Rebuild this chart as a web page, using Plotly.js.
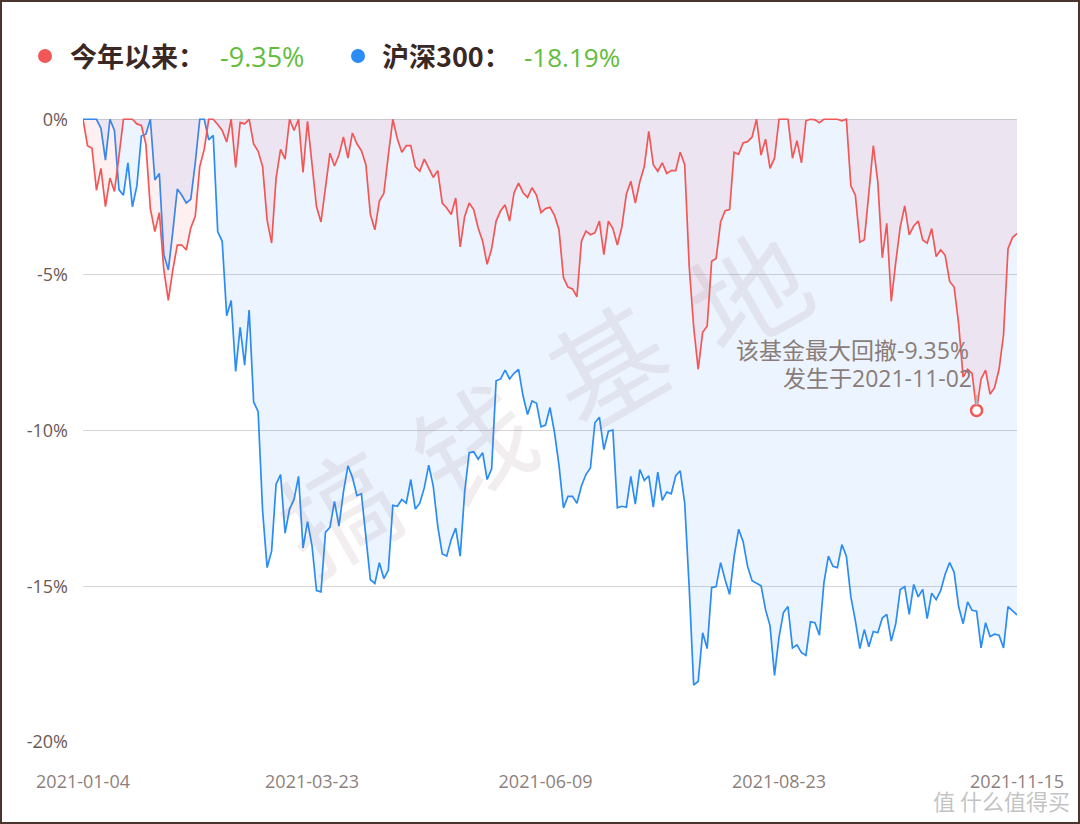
<!DOCTYPE html>
<html>
<head>
<meta charset="utf-8">
<script src="https://cdn.plot.ly/plotly-3.0.1.min.js"></script>
<style>
  html, body { margin: 0; padding: 0; background: #fff; }
  #wrap { position: relative; width: 1080px; height: 824px; }
  #chart { width: 1080px; height: 824px; }
  #frame { position: absolute; left: 0; top: 0; width: 1080px; height: 824px; box-sizing: border-box;
           border: 2px solid #4a342d; pointer-events: none; }
</style>
</head>
<body>
<div id="wrap"><div id="chart"></div><div id="frame"></div></div>
<script>
// ---- data ----
const seriesNames = ['今年以来', '沪深300'];
const legendValues = ['-9.35%', '-18.19%'];
const tickDates = ['2021-01-04', '2021-03-23', '2021-06-09', '2021-08-23', '2021-11-15'];
const yTickVals = [0, -5, -10, -15, -20];
const yTickText = ['0%', '-5%', '-10%', '-15%', '-20%'];
const holidays = ['2021-01-01','2021-02-11','2021-02-12','2021-02-15','2021-02-16','2021-02-17',
  '2021-04-05','2021-05-03','2021-05-04','2021-05-05','2021-06-14','2021-09-20','2021-09-21',
  '2021-10-01','2021-10-04','2021-10-05','2021-10-06','2021-10-07'];

// drawdown of the fund (%), one value per trading day
const fundDD = [
 0,-0.85,-0.93,-2.28,-1.58,-2.81,-1.89,-2.32,-1.2,0,
 0,0,-0.15,-0.2,-0.8,-2.87,-3.61,-3.0,-4.84,-5.82,
 -4.84,-4.04,-4.04,-4.2,-3.49,-3.12,-1.52,-0.97,0,0,
 -0.17,-0.36,-0.73,0,-1.55,-0.1,-0.15,0,-0.79,-1.03,
 -1.52,-3.24,-3.98,-1.89,-0.97,-1.28,0,-0.36,0,-1.71,
 -0.07,-1.40,-2.81,-3.30,-2.14,-1.09,-1.50,-1.15,-0.57,-1.25,
 -0.44,-0.79,-1.01,-1.46,-3.06,-3.55,-2.63,-2.38,-1.15,0,
 -0.63,-1.06,-0.85,-0.85,-1.52,-1.67,-1.28,-1.58,-1.87,-1.65,
 -2.69,-2.85,-3.06,-2.53,-4.10,-3.12,-2.69,-2.90,-3.49,-3.92,
 -4.66,-4.16,-3.27,-2.94,-2.75,-3.27,-2.36,-2.05,-2.36,-2.51,
 -2.20,-2.44,-3.00,-2.87,-2.83,-3.09,-3.55,-5.09,-5.39,-5.45,
 -5.70,-3.92,-3.59,-3.71,-3.65,-3.27,-4.35,-3.27,-3.51,-4.04,
 -3.46,-2.41,-1.99,-2.69,-2.01,-1.52,-0.39,-1.46,-1.67,-1.40,
 -1.74,-1.65,-1.65,-1.06,-1.46,-4.72,-6.68,-8.03,-6.84,-6.65,
 -4.56,-4.47,-3.30,-2.94,-2.90,-1.06,-1.13,-0.76,-0.72,-0.57,
 0,-1.15,-0.64,-1.58,-1.25,0,0,0,-1.25,-0.69,
 -1.40,-0.05,0,-0.02,-0.11,0,0,0,0,-0.05,
 0,-2.14,-2.44,-3.95,-3.87,-2.38,-0.85,-2.01,-4.45,-3.34,
 -5.85,-4.59,-3.46,-2.78,-3.71,-3.43,-3.27,-3.88,-3.98,-3.51,
 -4.41,-4.20,-4.37,-5.21,-5.39,-6.56,-8.28,-8.03,-8.16,-9.35,
 -8.34,-8.06,-8.83,-8.62,-8.03,-6.93,-4.16,-3.80,-3.67
];

// drawdown of CSI 300 (%)
const hs300DD = [
 0,0,0,0,-0.29,-1.31,0,-0.36,-2.26,-2.44,
 -1.40,-2.81,-2.14,-0.54,-0.48,0,-1.95,-1.74,-4.35,-4.84,
 -3.61,-2.24,-2.44,-2.69,-2.57,-1.40,0,0,-0.66,-0.52,
 -3.61,-3.92,-6.31,-5.82,-8.10,-6.68,-7.90,-6.13,-9.08,-9.39,
 -12.58,-14.40,-13.87,-11.72,-11.41,-13.29,-12.52,-12.21,-11.47,-13.77,
 -12.92,-13.69,-15.14,-15.18,-13.26,-13.11,-12.27,-13.07,-11.97,-11.13,
 -11.50,-12.09,-12.03,-13.44,-14.79,-14.91,-14.24,-14.75,-14.48,-12.40,
 -12.43,-12.21,-12.33,-11.57,-12.52,-12.33,-11.84,-11.11,-11.78,-13.07,
 -13.96,-14.03,-13.50,-13.13,-14.03,-11.97,-10.71,-10.68,-10.92,-10.71,
 -11.57,-11.23,-8.40,-8.34,-8.06,-8.34,-8.16,-8.03,-8.89,-9.48,
 -9.05,-9.12,-9.88,-9.82,-9.26,-10.06,-11.11,-12.48,-12.11,-12.11,
 -12.33,-11.78,-11.41,-11.20,-9.75,-9.57,-10.61,-10.02,-9.98,-12.48,
 -12.43,-12.46,-11.47,-12.36,-11.25,-11.60,-11.45,-12.46,-11.33,-12.24,
 -11.97,-12.03,-11.45,-11.29,-12.33,-15.04,-18.17,-18.05,-16.49,-17.0,
 -15.04,-15.01,-14.24,-14.79,-15.26,-14.05,-13.17,-13.56,-14.36,-14.82,
 -14.91,-14.98,-15.75,-16.27,-17.86,-16.63,-15.84,-15.65,-16.98,-16.88,
 -17.13,-17.22,-16.14,-16.17,-16.57,-14.89,-14.03,-14.36,-14.40,-13.66,
 -14.03,-15.34,-16.1,-17.0,-16.39,-16.94,-16.45,-16.49,-16.02,-15.90,
 -16.76,-16.20,-15.10,-15.01,-15.90,-14.94,-15.34,-15.10,-16.04,-15.22,
 -15.43,-15.14,-14.61,-14.24,-14.55,-15.65,-16.20,-15.50,-15.77,-15.80,
 -16.98,-16.17,-16.61,-16.54,-16.57,-16.98,-15.65,-15.80,-15.92
];

// ---- trading-day categories ----
const dates = [];
(function () {
  const hs = new Set(holidays);
  let t = Date.UTC(2021, 0, 4);
  const end = Date.UTC(2021, 10, 15);
  while (t <= end) {
    const d = new Date(t);
    const wd = d.getUTCDay();
    const s = d.toISOString().slice(0, 10);
    if (wd !== 0 && wd !== 6 && !hs.has(s)) dates.push(s);
    t += 86400000;
  }
})();

// worst point of the fund
let ddIdx = 0;
fundDD.forEach((v, i) => { if (v < fundDD[ddIdx]) ddIdx = i; });
const ddVal = fundDD[ddIdx];
const ddDate = dates[ddIdx];

// ---- layout helpers (pixel -> paper) ----
const L = 83, R = 1017, T = 118, B = 742;
const px = x => (x - L) / (R - L);
const py = y => (B - y) / (B - T);

const RED = '#f25757', BLUE = '#2a8cf4', GREEN = '#62bd3e';
const TXT = '#3a2824';
const LATIN = '"Open Sans", "Noto Sans CJK SC", sans-serif';
const CJK = '"Noto Sans CJK SC", "Open Sans", sans-serif';

const traces = [
  { x: dates, y: hs300DD, type: 'scatter', mode: 'lines', name: seriesNames[1],
    line: { color: BLUE, width: 1.7 }, fill: 'tozeroy', fillcolor: 'rgba(30,140,255,0.085)', hoverinfo: 'x+y' },
  { x: dates, y: fundDD, type: 'scatter', mode: 'lines', name: seriesNames[0],
    line: { color: RED, width: 1.7 }, fill: 'tozeroy', fillcolor: 'rgba(240,80,95,0.09)', hoverinfo: 'x+y' },
  { x: [ddDate], y: [ddVal], type: 'scatter', mode: 'markers', showlegend: false, hoverinfo: 'skip',
    marker: { size: 11, color: '#ffffff', line: { color: RED, width: 2.5 } } }
];

const wm = 'rgba(150,105,120,0.12)';
function wmChar(ch, x, y) {
  return { xref: 'paper', yref: 'paper', x: px(x), y: py(y), xanchor: 'center', yanchor: 'middle',
    showarrow: false, text: ch, textangle: -30, font: { family: CJK, size: 115, color: wm } };
}
const annotations = [
  // legend
  { xref: 'paper', yref: 'paper', x: px(68), y: py(56), xanchor: 'left', yanchor: 'middle', showarrow: false,
    text: '<b>' + seriesNames[0] + '：</b>', font: { family: CJK, size: 27, color: TXT } },
  { xref: 'paper', yref: 'paper', x: px(218), y: py(57), xanchor: 'left', yanchor: 'middle', showarrow: false,
    text: legendValues[0], font: { family: LATIN, size: 27, color: GREEN } },
  { xref: 'paper', yref: 'paper', x: px(380), y: py(56), xanchor: 'left', yanchor: 'middle', showarrow: false,
    text: '<b>' + seriesNames[1] + '：</b>', font: { family: CJK, size: 27, color: TXT } },
  { xref: 'paper', yref: 'paper', x: px(522), y: py(57), xanchor: 'left', yanchor: 'middle', showarrow: false,
    text: legendValues[1], font: { family: LATIN, size: 26, color: GREEN } },
  // drawdown note
  { xref: 'paper', yref: 'paper', x: px(734), y: py(350), xanchor: 'left', yanchor: 'middle',
    showarrow: false, text: '该基金最大回撤' + ddVal.toFixed(2) + '%',
    font: { family: LATIN, size: 23, color: '#8a7c79' } },
  { xref: 'paper', yref: 'paper', x: px(781), y: py(378), xanchor: 'left', yanchor: 'middle',
    showarrow: false, text: '发生于' + ddDate,
    font: { family: LATIN, size: 23, color: '#8a7c79' } },
  // watermark
  wmChar('搞', 336, 507), wmChar('钱', 470, 440), wmChar('基', 606, 362), wmChar('地', 746, 288),
  // site logo
  { xref: 'paper', yref: 'paper', x: px(1072), y: py(800), xanchor: 'right', yanchor: 'middle', showarrow: false,
    text: '值 什么值得买', font: { family: CJK, size: 22, color: 'rgba(185,185,185,0.85)' } }
];

const shapes = [
  { type: 'circle', xref: 'paper', yref: 'paper', x0: px(38), x1: px(52), y0: py(49), y1: py(63),
    fillcolor: RED, line: { width: 0 } },
  { type: 'circle', xref: 'paper', yref: 'paper', x0: px(351), x1: px(365), y0: py(49), y1: py(63),
    fillcolor: BLUE, line: { width: 0 } },
  { type: 'line', xref: 'x', yref: 'y', x0: ddDate, x1: ddDate, y0: -8.85, y1: -9.18,
    line: { color: '#b8b8b8', width: 2 } }
];

const layout = {
  width: 1080, height: 824,
  margin: { l: L, r: 1080 - R, t: T, b: 824 - B, pad: 0 },
  paper_bgcolor: '#ffffff', plot_bgcolor: '#ffffff',
  showlegend: false,
  font: { family: LATIN },
  xaxis: {
    type: 'category', range: [0, dates.length - 1], tickmode: 'array', tickvals: tickDates, ticktext: tickDates,
    showgrid: false, zeroline: false, showline: false, ticks: '', ticklabelstandoff: 27,
    tickfont: { family: LATIN, size: 18, color: '#8e7f7c' }, fixedrange: true
  },
  yaxis: {
    range: [-20, 0.04], tickmode: 'array', tickvals: yTickVals, ticktext: yTickText,
    showgrid: true, gridcolor: '#d5d5d5', gridwidth: 1, zeroline: false, showline: false, ticks: '',
    ticklabelstandoff: 14, tickfont: { family: LATIN, size: 18, color: '#6b5955' }, fixedrange: true
  },
  annotations: annotations,
  shapes: shapes
};

const draw = () => Plotly.newPlot('chart', traces, layout, { displayModeBar: false, staticPlot: true });
if (document.fonts && document.fonts.ready) {
  document.fonts.ready.then(draw, draw);
} else {
  draw();
}
</script>
</body>
</html>
